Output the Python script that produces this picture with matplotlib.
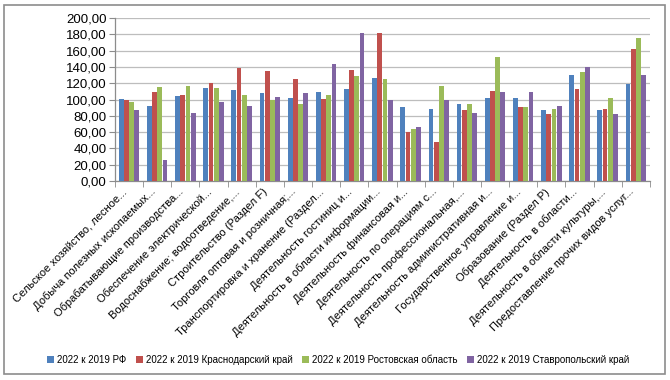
import numpy as np
import matplotlib
matplotlib.use('Agg')
import matplotlib.pyplot as plt
import matplotlib.transforms as mtransforms
from matplotlib.ticker import FuncFormatter
from matplotlib.patches import Rectangle

plt.rcParams['font.family'] = ['Liberation Sans', 'DejaVu Sans']

# категории (подписи оси X)
categories = [
    'Сельское хозяйство, лесное...',
    'Добыча полезных ископаемых...',
    'Обрабатывающие производства...',
    'Обеспечение электрической...',
    'Водоснабжение; водоотведение,...',
    'Строительство (Раздел F)',
    'Торговля оптовая и розничная;...',
    'Транспортировка и хранение (Раздел...',
    'Деятельность гостиниц и...',
    'Деятельность в области информации...',
    'Деятельность финансовая и...',
    'Деятельность по операциям с...',
    'Деятельность профессиональная,...',
    'Деятельность административная и...',
    'Государственное управление и...',
    'Образование (Раздел P)',
    'Деятельность в области...',
    'Деятельность в области культуры,...',
    'Предоставление прочих видов услуг...',
]

rf = [100.8, 92.6, 103.7, 113.9, 111.9, 108.2, 101.6, 109.0, 112.7, 126.6,
      90.6, 88.1, 94.7, 101.6, 101.6, 87.7, 130.3, 87.7, 119.3]
krasnodar = [99.6, 109.8, 105.7, 119.7, 138.5, 134.4, 124.6, 100.8, 136.5, 181.6,
             60.2, 48.0, 86.9, 110.7, 90.2, 82.4, 112.7, 88.9, 161.5]
rostov = [96.7, 115.6, 116.4, 113.9, 106.1, 100.0, 94.3, 106.1, 129.0, 124.6,
          63.5, 116.8, 94.7, 152.5, 90.2, 88.9, 133.2, 101.6, 175.8]
stavropol = [87.7, 25.4, 84.0, 97.1, 92.6, 102.5, 108.2, 143.0, 181.6, 98.8,
             66.4, 98.8, 83.6, 109.8, 109.8, 91.8, 139.3, 81.6, 130.3]

series = [
    ('2022 к 2019 РФ', rf, '#4F81BD'),
    ('2022 к 2019 Краснодарский край', krasnodar, '#C0504D'),
    ('2022 к 2019 Ростовская область', rostov, '#9BBB59'),
    ('2022 к 2019 Ставропольский край', stavropol, '#8064A2'),
]

fig = plt.figure(figsize=(6.7, 3.8), dpi=100)
ax = fig.add_axes([0.1716, 0.5237, 0.7984, 0.4289])

x = np.arange(len(categories))
w = 0.185
for i, (name, vals, col) in enumerate(series):
    ax.bar(x + (i - 1.5) * w, vals, w * 0.92, color=col, label=name, zorder=3)

ax.set_xlim(-0.5, len(categories) - 0.5)
ax.set_ylim(0, 200)
ax.set_yticks(np.arange(0, 201, 20))
ax.yaxis.set_major_formatter(FuncFormatter(lambda v, p: ('%.2f' % v).replace('.', ',')))
ax.yaxis.grid(True, color='#BDBDBD', lw=0.9, zorder=0)

ax.set_xticks(x)
ax.set_xticklabels(categories, rotation=45, ha='right', va='top', fontsize=8)
# сдвиг подписей чуть вправо, как в Excel
shift = mtransforms.ScaledTranslation(6 / 72, 0, fig.dpi_scale_trans)
for lbl in ax.get_xticklabels():
    lbl.set_transform(lbl.get_transform() + shift)
ax.set_xticks(np.arange(-0.5, len(categories), 1), minor=True)
ax.tick_params(axis='x', which='major', length=0, pad=4)
ax.tick_params(axis='x', which='minor', length=4, color='#8C8C8C')
ax.tick_params(axis='y', length=4, color='#8C8C8C', labelsize=9.5, pad=2)

for s in ['top', 'right']:
    ax.spines[s].set_visible(False)
for s in ['left', 'bottom']:
    ax.spines[s].set_color('#8C8C8C')
    ax.spines[s].set_linewidth(0.9)

fig.legend(loc='center', bbox_to_anchor=(0.505, 0.053), ncol=4, frameon=False,
           fontsize=7, handlelength=0.7, handleheight=0.7, handletextpad=0.3,
           columnspacing=1.0)

# рамка вокруг диаграммы
fig.patches.append(Rectangle((0.006, 0.016), 0.986, 0.972, transform=fig.transFigure,
                             fill=False, edgecolor='#8C8C8C', lw=1.2))

plt.savefig('out.png', dpi=100)
plt.close()
